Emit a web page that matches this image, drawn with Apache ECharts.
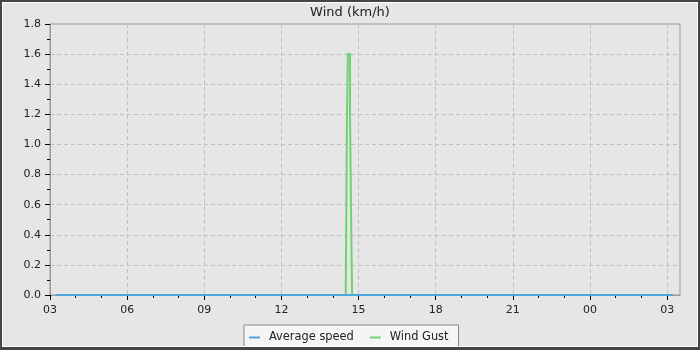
<!DOCTYPE html>
<html>
<head>
<meta charset="utf-8">
<script src="https://cdn.jsdelivr.net/npm/echarts@6/dist/echarts.min.js"></script>
<style>
html,body{margin:0;padding:0;background:#e6e6e6;}
#c{width:700px;height:350px;}
</style>
</head>
<body>
<div id="c"></div>
<script>
// ---- data ----
var titleText = "Wind (km/h)";
var seriesNames = ["Average speed", "Wind Gust"];
var avgTimes  = ["03:14", "06:00", "09:00", "12:00", "14:30", "14:45", "18:00", "21:00", "00:00", "03:13"];
var avgValues = [0, 0, 0, 0, 0, 0, 0, 0, 0, 0];
var gustTimes  = ["03:14", "09:00", "14:30", "14:31", "14:33", "14:35", "14:40", "14:43", "14:45", "21:00", "03:13"];
var gustValues = [0, 0, 0, 0.4, 1.2, 1.6, 1.2, 0.4, 0, 0, 0];
var xTickHours = [0, 3, 6, 9, 12, 15, 18, 21, 24];   // hours after 03:00
var xMinorHours = [1, 2, 4, 5, 7, 8, 10, 11, 13, 14, 16, 17, 19, 20, 22, 23];
var startHour = 3;
var yMin = 0, yMax = 1.8, yStep = 0.2;

// convert clock times (monotonic, wrapping past midnight) into hours after start
function toHours(times) {
  var out = [], prev = -1, dayAdd = 0;
  for (var i = 0; i < times.length; i++) {
    var p = times[i].split(":");
    var h = (parseInt(p[0], 10) - startHour) + parseInt(p[1], 10) / 60;
    if (h < 0) h += 24;
    h += dayAdd;
    if (h < prev) { dayAdd += 24; h += 24; }
    prev = h;
    out.push(h);
  }
  return out;
}
function pairs(times, vals) {
  var hs = toHours(times), r = [];
  for (var i = 0; i < hs.length; i++) r.push([hs[i], vals[i]]);
  return r;
}

var FONT = "DejaVu Sans";
var chart = echarts.init(document.getElementById("c"), null, {renderer: "canvas"});
var option = {
  animation: false,
  backgroundColor: "#e6e6e6",
  textStyle: {fontFamily: FONT},
  title: {
    text: titleText, left: "center", top: 1,
    textStyle: {fontFamily: FONT, fontSize: 13, fontWeight: "normal", color: "#222"}
  },
  legend: {
    data: seriesNames,
    left: 244, top: 325,
    padding: [7, 10, 7, 5],
    itemGap: 16,
    itemWidth: 11, itemHeight: 2,
    icon: "rect",
    backgroundColor: "#f5f5f5",
    borderColor: "#888",
    borderWidth: 1,
    borderRadius: 0,
    textStyle: {fontFamily: FONT, fontSize: 11.4, color: "#222", padding: [0, 0, 0, 4]}
  },
  grid: {left: 50, right: 20, top: 24, bottom: 55, show: true, backgroundColor: "#e6e6e6",
         borderColor: "#999", borderWidth: 1, containLabel: false, outerBoundsMode: "none"},
  xAxis: [{
    type: "value", min: 0, max: 24.5, interval: 3,
    axisLine: {show: true, lineStyle: {color: "#999", width: 1}},
    axisTick: {show: true, length: 5, customValues: xTickHours, lineStyle: {color: "#000"}},
    axisLabel: {customValues: xTickHours, margin: 10, fontFamily: FONT, fontSize: 11, color: "#222",
      formatter: function (v) { var h = (Math.round(v) + startHour) % 24; return (h < 10 ? "0" : "") + h; }},
    splitLine: {show: true, lineStyle: {color: "#c0c0c0", type: [4, 3], width: 1}}
  }, {
    type: "value", min: 0, max: 24.5, position: "bottom",
    axisLine: {show: false},
    axisTick: {show: true, length: 3, customValues: xMinorHours, lineStyle: {color: "#000"}},
    axisLabel: {show: false},
    splitLine: {show: false}
  }],
  yAxis: {
    type: "value", min: yMin, max: yMax, interval: yStep,
    axisLine: {show: true, lineStyle: {color: "#999", width: 1}},
    axisTick: {show: true, length: 5, lineStyle: {color: "#000"}},
    minorTick: {show: true, splitNumber: 2, length: 3, lineStyle: {color: "#000"}},
    axisLabel: {margin: 9, fontFamily: FONT, fontSize: 11, color: "#222",
      formatter: function (v) { return v.toFixed(1); }},
    splitLine: {show: true, lineStyle: {color: "#c0c0c0", type: [4, 3], width: 1}}
  },
  series: [{
    name: seriesNames[1], type: "line", xAxisIndex: 0, data: pairs(gustTimes, gustValues), step: "end",
    showSymbol: false, symbol: "none",
    lineStyle: {color: "#6fd46f", width: 2, join: "miter", cap: "butt"}, itemStyle: {color: "#6fd46f"}, z: 2
  }, {
    name: seriesNames[0], type: "line", xAxisIndex: 0, data: pairs(avgTimes, avgValues),
    showSymbol: false, symbol: "none", lineStyle: {color: "#4fa6dc", width: 2}, itemStyle: {color: "#4fa6dc"}, z: 3
  }],
  graphic: [
    {type: "rect", z: 100, silent: true, shape: {x: 0, y: 0, width: 700, height: 2}, style: {fill: "#454545"}},
    {type: "rect", z: 100, silent: true, shape: {x: 0, y: 0, width: 2, height: 350}, style: {fill: "#454545"}},
    {type: "rect", z: 100, silent: true, shape: {x: 698, y: 0, width: 2, height: 350}, style: {fill: "#454545"}},
    {type: "rect", z: 100, silent: true, shape: {x: 0, y: 347, width: 700, height: 3}, style: {fill: "#454545"}},
    {type: "rect", z: 99, silent: true, shape: {x: 2, y: 2, width: 696, height: 1}, style: {fill: "#ffffff"}},
    {type: "rect", z: 99, silent: true, shape: {x: 2, y: 2, width: 1, height: 345}, style: {fill: "#ffffff"}},
    {type: "rect", z: 99, silent: true, shape: {x: 697, y: 2, width: 1, height: 345}, style: {fill: "#ffffff"}},
    {type: "rect", z: 99, silent: true, shape: {x: 2, y: 346, width: 696, height: 1}, style: {fill: "#ffffff"}}
  ]
};
chart.setOption(option);
</script>
</body>
</html>
